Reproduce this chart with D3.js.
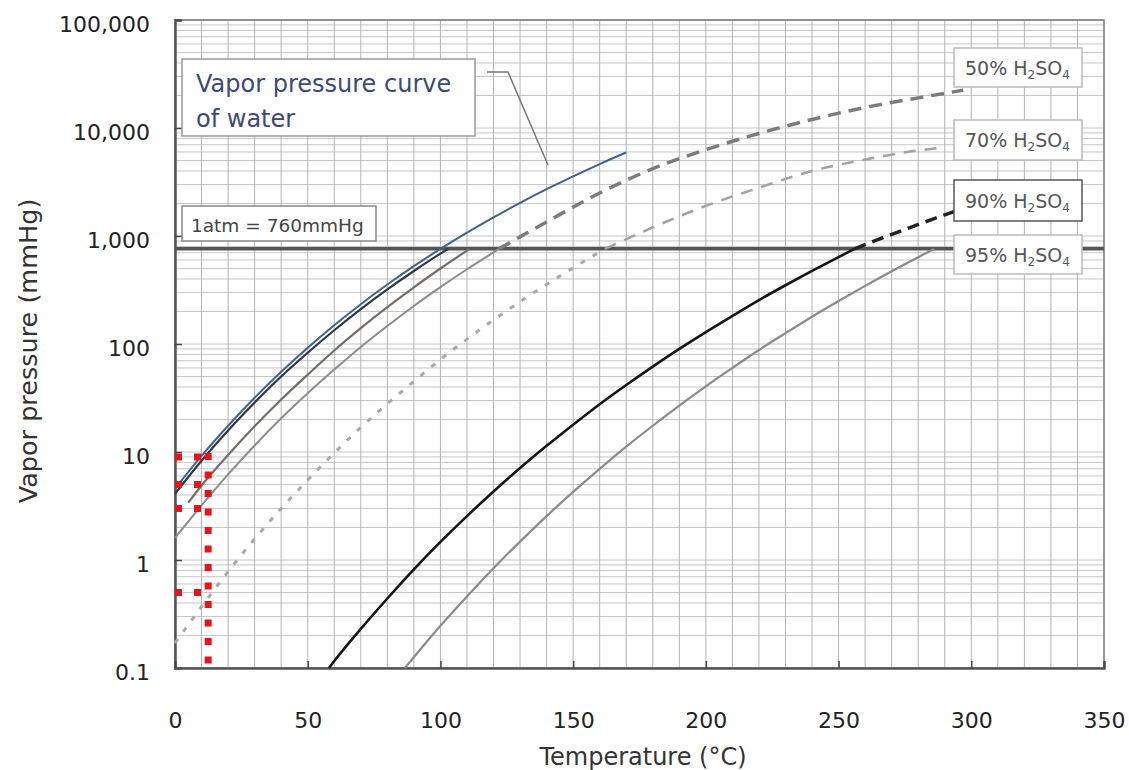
<!DOCTYPE html>
<html>
<head>
<meta charset="utf-8">
<script src="https://cdnjs.cloudflare.com/ajax/libs/d3/7.8.5/d3.min.js"></script>
<style>
	body { margin: 0; background: #ffffff; }
	svg { display: block; }
</style>
</head>
<body>
<svg id="svg"></svg>
<script>
// Data: [temperature degC, vapor pressure mmHg]
var water = [[0,4.58],[10,9.21],[20,17.5],[30,31.8],[40,55.3],[50,92.5],[60,149.4],[70,233.7],[80,355.1],[90,525.8],[100,760],[110,1075],[120,1489],[130,2026],[140,2711],[150,3570],[160,4636],[170,5942]];
var curveA = [[0,4.1],[10,8.3],[20,15.8],[30,28.7],[40,50],[50,83],[60,134],[70,210],[80,320],[90,474],[100,686],[103,760]];
var curveB = [[5,3.4],[10,4.9],[20,9.4],[30,17.3],[40,30.6],[50,52],[60,87],[70,140],[80,219],[90,335],[100,500],[111,760]];
var acid50 = [[0,1.6],[10,3.2],[20,6.2],[30,11.5],[40,20.5],[50,35],[60,58],[70,94],[80,147],[90,225],[100,336],[110,492],[120,706],[122,760]];
var acid50hi = [[122,760],[140,1350],[160,2500],[180,4200],[200,6300],[220,8900],[240,12000],[260,15500],[280,19000],[297,22400]];
var acid70 = [[0,0.17],[10,0.37],[20,0.78],[30,1.57],[40,3.0],[50,5.5],[60,9.8],[70,16.9],[80,28],[90,45],[100,72],[110,111],[120,167],[130,246],[140,356],[150,507],[160,711],[162,760]];
var acid70hi = [[162,760],[180,1200],[200,1900],[220,2800],[240,4000],[260,5100],[280,6200],[290,6600]];
var acid90 = [[58,0.1],[60,0.116],[70,0.23],[80,0.44],[90,0.82],[100,1.47],[110,2.55],[120,4.3],[130,7.1],[140,11.4],[150,17.9],[160,27.7],[170,41.7],[180,61.8],[190,90],[200,129],[210,182],[220,255],[230,350],[240,475],[250,638],[256,760]];
var acid90hi = [[256,760],[265,930],[275,1150],[285,1420],[294,1700]];
var acid95 = [[86.6,0.1],[90,0.126],[100,0.246],[110,0.46],[120,0.84],[130,1.48],[140,2.55],[150,4.27],[160,6.98],[170,11.2],[180,17.5],[190,26.9],[200,40.5],[210,60],[220,88],[230,126],[240,179],[250,250],[260,345],[270,472],[280,637],[286,760]];

var atm = 760;
var xTicks = [0, 50, 100, 150, 200, 250, 300, 350];
var yTicks = [0.1, 1, 10, 100, 1000, 10000, 100000];
var acidNames = ["50%", "70%", "90%", "95%"];

// red dotted marks (temperature, pressure levels)
var markTemp = 12.5;
var markRows = [[9, 12.5], [5, 12.5], [3, 12.5], [0.5, 9.5]];

// Layout
var W = 1129, H = 770;
var margin = {top: 20, right: 25, bottom: 102, left: 175};
var width = W - margin.left - margin.right;
var height = H - margin.top - margin.bottom;

var font = "'DejaVu Sans', 'Liberation Sans', sans-serif";

var svg = d3.select("#svg")
	.attr("width", W)
	.attr("height", H);
var g = svg.append("g")
	.attr("transform", "translate(" + margin.left + "," + margin.top + ")");

var x = d3.scaleLinear().domain([0, 350]).range([0, width]);
var y = d3.scaleLog().domain([0.1, 100000]).range([height, 0]);

// Grid
g.append("g").selectAll("line")
	.data(y.ticks())
	.enter().append("line")
	.attr("x1", 0).attr("x2", width)
	.attr("y1", function(d) { return y(d); })
	.attr("y2", function(d) { return y(d); })
	.attr("stroke", "#c6c6c6")
	.attr("stroke-width", 1);

g.append("g").selectAll("line")
	.data(d3.range(10, 350, 10))
	.enter().append("line")
	.attr("y1", 0).attr("y2", height)
	.attr("x1", function(d) { return x(d); })
	.attr("x2", function(d) { return x(d); })
	.attr("stroke", "#b4b4b4")
	.attr("stroke-width", 1);

// frame
g.append("rect")
	.attr("width", width).attr("height", height)
	.attr("fill", "none")
	.attr("stroke", "#777")
	.attr("stroke-width", 1.5);

// Axes
var yAxis = d3.axisLeft(y)
	.tickValues(yTicks)
	.tickFormat(d3.format(","))
	.tickSize(-7)
	.tickPadding(25);
var xAxis = d3.axisBottom(x)
	.tickValues(xTicks)
	.tickSize(-7)
	.tickPadding(44);

var ya = g.append("g").call(yAxis);
var xa = g.append("g").attr("transform", "translate(0," + height + ")").call(xAxis);

[ya, xa].forEach(function(a) {
	a.select(".domain").attr("stroke", "#555").attr("stroke-width", 2.5);
	a.selectAll(".tick line").attr("stroke", "#444").attr("stroke-width", 1.5);
	a.selectAll(".tick text")
		.attr("fill", "#222")
		.attr("font-family", font)
		.attr("font-size", 22);
});
ya.selectAll(".tick text").attr("dy", "0.5em");

// axis titles
svg.append("text")
	.attr("x", 643).attr("y", 765)
	.attr("text-anchor", "middle")
	.attr("font-family", font)
	.attr("font-size", 24)
	.attr("fill", "#333")
	.text("Temperature (\u00b0C)");

svg.append("text")
	.attr("transform", "translate(37,351) rotate(-90)")
	.attr("text-anchor", "middle")
	.attr("font-family", font)
	.attr("font-size", 25.5)
	.attr("fill", "#333")
	.text("Vapor pressure (mmHg)");

// Curves
var line = d3.line()
	.x(function(d) { return x(d[0]); })
	.y(function(d) { return y(d[1]); })
	.curve(d3.curveMonotoneX);

function drawCurve(data, color, w, dash) {
	var p = g.append("path")
		.attr("d", line(data))
		.attr("fill", "none")
		.attr("stroke", color)
		.attr("stroke-width", w);
	if (dash) p.attr("stroke-dasharray", dash);
	return p;
}

// 1 atm line
g.append("line")
	.attr("x1", 0).attr("x2", width)
	.attr("y1", y(atm)).attr("y2", y(atm))
	.attr("stroke", "#555")
	.attr("stroke-width", 3.5);

drawCurve(acid70, "#a8a8a8", 3, "5,9");
drawCurve(acid70hi, "#a2a2a2", 2.5, "12,9");
drawCurve(acid50, "#8c8c8c", 2);
drawCurve(acid50hi, "#7c7c7c", 3.5, "13,8");
drawCurve(curveB, "#736e6a", 2.2);
drawCurve(curveA, "#2f3840", 2.2);
drawCurve(water, "#3f6290", 2);
drawCurve(acid95, "#8a8a8a", 2.2);
drawCurve(acid90, "#151515", 2.6);
drawCurve(acid90hi, "#222", 3.5, "12,7");

// red dotted marks
g.append("line")
	.attr("x1", x(markTemp)).attr("x2", x(markTemp))
	.attr("y1", y(markRows[0][0]) - 4).attr("y2", y(0.1) - 2)
	.attr("stroke", "#e8141c")
	.attr("stroke-width", 7)
	.attr("stroke-dasharray", "7,11.5");

g.append("g").selectAll("line")
	.data(markRows)
	.enter().append("line")
	.attr("x1", 0)
	.attr("x2", function(d) { return x(d[1]) + 3; })
	.attr("y1", function(d) { return y(d[0]); })
	.attr("y2", function(d) { return y(d[0]); })
	.attr("stroke", "#e8141c")
	.attr("stroke-width", 7)
	.attr("stroke-dasharray", "7,12");

// Annotations
function box(bx, by, bw, bh, stroke) {
	svg.append("rect")
		.attr("x", bx).attr("y", by)
		.attr("width", bw).attr("height", bh)
		.attr("fill", "#fff")
		.attr("stroke", stroke)
		.attr("stroke-width", 1.5);
}

// water label + leader
svg.append("polyline")
	.attr("points", "487,72 508,72 548,165")
	.attr("fill", "none")
	.attr("stroke", "#777")
	.attr("stroke-width", 1.5);
box(182, 59, 293, 77, "#999");
var wt = svg.append("text")
	.attr("font-family", font)
	.attr("font-size", 24)
	.attr("fill", "#3a4a78");
wt.append("tspan").attr("x", 196).attr("y", 92).text("Vapor pressure curve");
wt.append("tspan").attr("x", 196).attr("y", 127).text("of water");

box(182, 206, 194, 35, "#888");
svg.append("text")
	.attr("x", 191).attr("y", 232)
	.attr("font-family", font)
	.attr("font-size", 18.5)
	.attr("fill", "#444")
	.text("1atm = 760mmHg");

var acidBoxes = [
	{top: 48, h: 39, stroke: "#bbb"},
	{top: 120, h: 40, stroke: "#bbb"},
	{top: 180, h: 41, stroke: "#555"},
	{top: 235, h: 39, stroke: "#bbb"}
];
acidNames.forEach(function(name, i) {
	var b = acidBoxes[i];
	box(954, b.top, 128, b.h, b.stroke);
	var t = svg.append("text")
		.attr("x", 965).attr("y", b.top + b.h / 2 + 7)
		.attr("font-family", font)
		.attr("font-size", 19)
		.attr("fill", "#555");
	t.append("tspan").text(name + " H");
	t.append("tspan").attr("font-size", 12).attr("dy", 4).text("2");
	t.append("tspan").attr("dy", -4).text("SO");
	t.append("tspan").attr("font-size", 12).attr("dy", 4).text("4");
});
</script>
</body>
</html>
